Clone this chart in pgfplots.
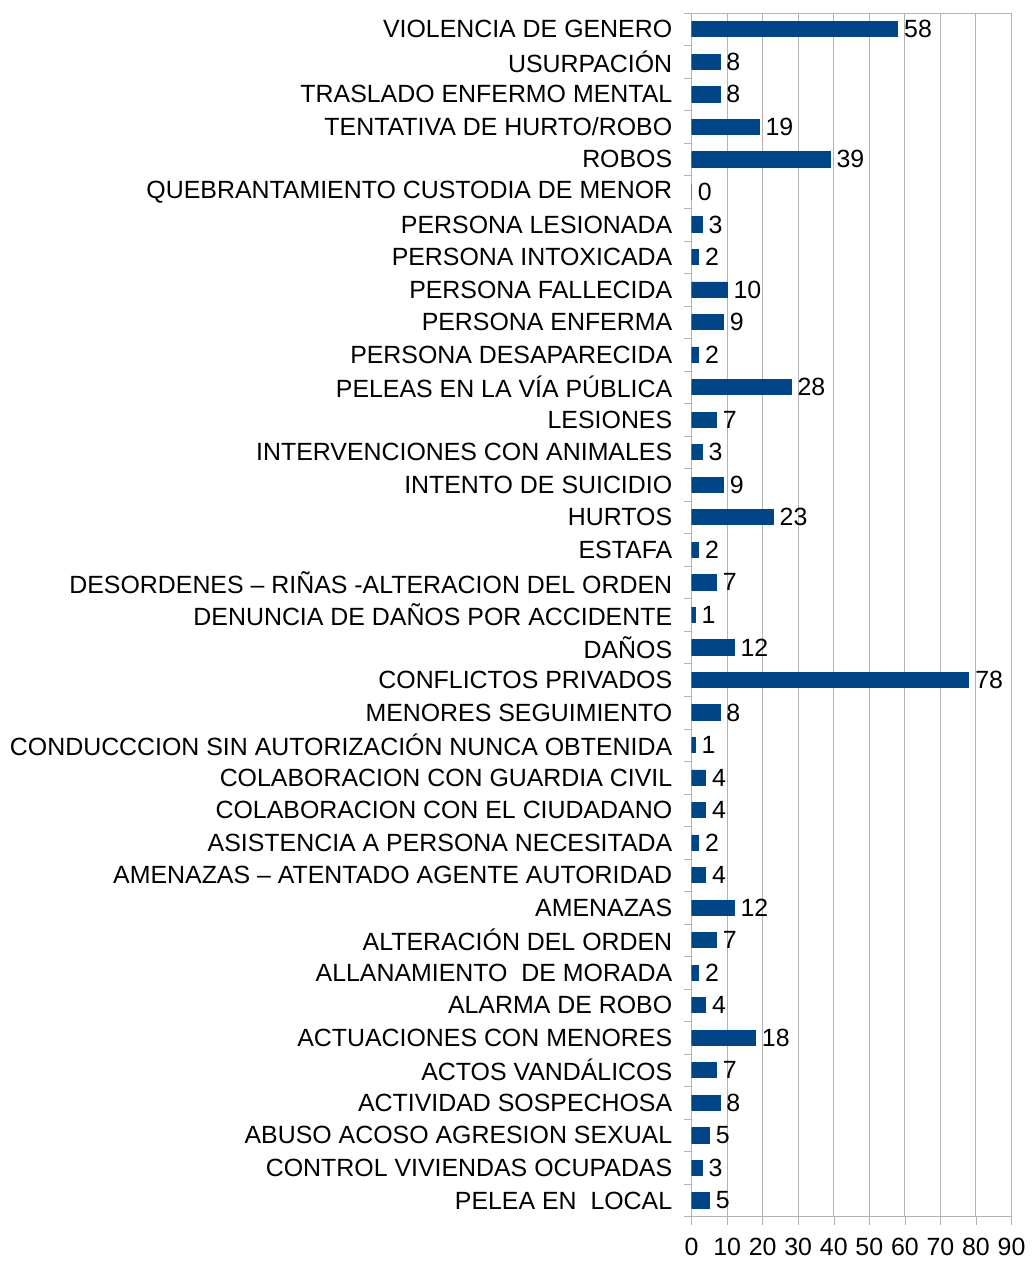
\documentclass[border=0pt]{standalone}
\usepackage{fontspec}
\setmainfont{Liberation Sans}
\usepackage{pgfplots}
\pgfplotsset{compat=1.18}
\definecolor{barblue}{HTML}{004586}
\definecolor{gridgray}{HTML}{B3B3B3}
\begin{document}
\begin{tikzpicture}
\begin{axis}[
  scale only axis,
  width=160bp, height=602bp,
  xbar, bar width=7.6bp,
  xmin=0, xmax=90, ymin=-0.5, ymax=36.5,
  xtick={0,10,...,90},
  ytick={0,...,36},
  minor ytick={-0.5,0.5,...,36.5},
  major tick length=4bp,
  minor tick length=4bp,
  tick align=outside,
  xtick pos=bottom, ytick pos=left,
  tick style={draw=gridgray},
  every major y tick/.append style={draw=none},
  xmajorgrids, grid style={draw=gridgray, line width=0.5pt},
  axis line style={draw=gridgray},
  /pgf/number format/assume math mode=true,
  tick label style={font=\fontsize{12.5}{14}\selectfont, text=black},
  xticklabel shift=3bp,
  yticklabel shift=5.5bp,
  yticklabel style={inner sep=0pt, anchor=east},
  yticklabels={{PELEA EN\ \ LOCAL},{CONTROL VIVIENDAS OCUPADAS},{ABUSO ACOSO AGRESION SEXUAL},{ACTIVIDAD SOSPECHOSA},{ACTOS VANDÁLICOS},{ACTUACIONES CON MENORES},{ALARMA DE ROBO},{ALLANAMIENTO\ \ DE MORADA},{ALTERACIÓN DEL ORDEN},{AMENAZAS\hspace{0.28em}},{AMENAZAS – ATENTADO AGENTE AUTORIDAD},{ASISTENCIA A PERSONA NECESITADA},{COLABORACION CON EL CIUDADANO},{COLABORACION CON GUARDIA CIVIL},{CONDUCCCION SIN AUTORIZACIÓN NUNCA OBTENIDA},{MENORES SEGUIMIENTO},{CONFLICTOS PRIVADOS},{DAÑOS},{DENUNCIA DE DAÑOS POR ACCIDENTE},{DESORDENES – RIÑAS -ALTERACION DEL ORDEN},{ESTAFA},{HURTOS},{INTENTO DE SUICIDIO},{INTERVENCIONES CON ANIMALES},{LESIONES},{PELEAS EN LA VÍA PÚBLICA},{PERSONA DESAPARECIDA\hspace{0.28em}},{PERSONA ENFERMA},{PERSONA FALLECIDA},{PERSONA INTOXICADA},{PERSONA LESIONADA},{QUEBRANTAMIENTO CUSTODIA DE MENOR},{ROBOS},{TENTATIVA DE HURTO/ROBO},{TRASLADO ENFERMO MENTAL},{USURPACIÓN},{VIOLENCIA DE GENERO}},
  nodes near coords,
  nodes near coords style={font=\fontsize{12.5}{14}\selectfont, anchor=west, inner sep=0pt, xshift=3bp, text=black},
]
\addplot[fill=barblue, draw=barblue, line width=0.4pt] coordinates {
(5,0) (3,1) (5,2) (8,3) (7,4) (18,5) (4,6) (2,7) (7,8) (12,9)
(4,10) (2,11) (4,12) (4,13) (1,14) (8,15) (78,16) (12,17) (1,18) (7,19)
(2,20) (23,21) (9,22) (3,23) (7,24) (28,25) (2,26) (9,27) (10,28) (2,29)
(3,30) (0,31) (39,32) (19,33) (8,34) (8,35) (58,36)
};
\end{axis}
\path (current axis.north) ++(0,6.5bp) coordinate (t);
\path (current axis.east) ++(8bp,0) coordinate (r);
\path (current axis.outer west) ++(-5bp,0) coordinate (l);
\end{tikzpicture}
\end{document}
